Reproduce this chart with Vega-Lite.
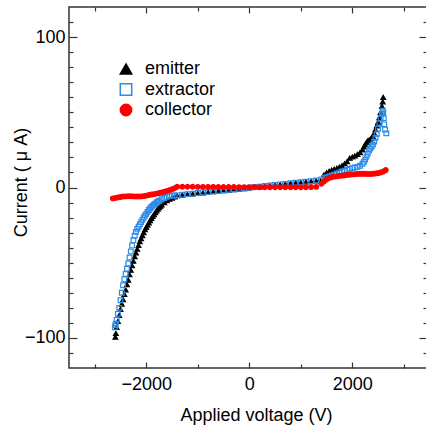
{
  "$schema": "https://vega.github.io/schema/vega-lite/v6.json",
  "width": 358,
  "height": 361,
  "autosize": "none",
  "padding": {"left": 69, "top": 7, "right": 0, "bottom": 59},
  "background": "white",
  "config": {
    "view": {"stroke": "#333", "strokeWidth": 1.5},
    "axis": {
      "labelFont": "Liberation Sans", "labelFontSize": 18, "labelColor": "#000",
      "titleFont": "Liberation Sans", "titleFontSize": 18, "titleFontWeight": "normal", "titleColor": "#000",
      "tickColor": "#333", "tickWidth": 1.2, "domain": false, "grid": false
    }
  },
  "datasets": {
    "d": [
      {"V":-2600,"I":-99.5,"s":"emitter"},{"V":-2590,"I":-97,"s":"emitter"},{"V":-2575,"I":-93,"s":"emitter"},{"V":-2550,"I":-89,"s":"emitter"},{"V":-2525,"I":-85,"s":"emitter"},{"V":-2500,"I":-81,"s":"emitter"},{"V":-2475,"I":-77.5,"s":"emitter"},{"V":-2450,"I":-74.5,"s":"emitter"},{"V":-2425,"I":-71,"s":"emitter"},{"V":-2400,"I":-68,"s":"emitter"},{"V":-2375,"I":-64.5,"s":"emitter"},{"V":-2350,"I":-61.5,"s":"emitter"},{"V":-2325,"I":-58,"s":"emitter"},{"V":-2300,"I":-55,"s":"emitter"},{"V":-2275,"I":-52,"s":"emitter"},{"V":-2250,"I":-49,"s":"emitter"},{"V":-2225,"I":-46,"s":"emitter"},{"V":-2200,"I":-43.5,"s":"emitter"},{"V":-2175,"I":-41,"s":"emitter"},{"V":-2150,"I":-38.5,"s":"emitter"},{"V":-2125,"I":-36,"s":"emitter"},{"V":-2100,"I":-34,"s":"emitter"},{"V":-2075,"I":-32,"s":"emitter"},{"V":-2050,"I":-30,"s":"emitter"},{"V":-2025,"I":-28,"s":"emitter"},{"V":-2000,"I":-26.5,"s":"emitter"},{"V":-1975,"I":-25,"s":"emitter"},{"V":-1950,"I":-23.5,"s":"emitter"},{"V":-1925,"I":-22,"s":"emitter"},{"V":-1900,"I":-20.5,"s":"emitter"},{"V":-1875,"I":-19.2,"s":"emitter"},{"V":-1850,"I":-18,"s":"emitter"},{"V":-1825,"I":-16.7,"s":"emitter"},{"V":-1800,"I":-15.5,"s":"emitter"},{"V":-1775,"I":-14.3,"s":"emitter"},{"V":-1750,"I":-13.3,"s":"emitter"},{"V":-1725,"I":-12.4,"s":"emitter"},{"V":-1700,"I":-11.5,"s":"emitter"},{"V":-1650,"I":-10,"s":"emitter"},{"V":-1600,"I":-8.8,"s":"emitter"},{"V":-1550,"I":-7.8,"s":"emitter"},{"V":-1500,"I":-7.0,"s":"emitter"},{"V":-1450,"I":-6.2,"s":"emitter"},
      {"V":-1400,"I":-5.4,"s":"emitter"},{"V":-1300,"I":-5.0,"s":"emitter"},{"V":-1200,"I":-4.6,"s":"emitter"},{"V":-1100,"I":-4.3,"s":"emitter"},{"V":-1000,"I":-3.9,"s":"emitter"},{"V":-900,"I":-3.5,"s":"emitter"},{"V":-800,"I":-3.2,"s":"emitter"},{"V":-700,"I":-2.8,"s":"emitter"},{"V":-600,"I":-2.5,"s":"emitter"},{"V":-500,"I":-2.1,"s":"emitter"},{"V":-400,"I":-1.7,"s":"emitter"},{"V":-300,"I":-1.4,"s":"emitter"},{"V":-200,"I":-1.0,"s":"emitter"},{"V":-100,"I":-0.7,"s":"emitter"},{"V":0,"I":-0.3,"s":"emitter"},{"V":100,"I":0.1,"s":"emitter"},{"V":200,"I":0.4,"s":"emitter"},{"V":300,"I":0.8,"s":"emitter"},{"V":400,"I":1.2,"s":"emitter"},{"V":500,"I":1.5,"s":"emitter"},{"V":600,"I":1.9,"s":"emitter"},{"V":700,"I":2.2,"s":"emitter"},{"V":800,"I":2.6,"s":"emitter"},{"V":900,"I":3.0,"s":"emitter"},{"V":1000,"I":3.3,"s":"emitter"},{"V":1100,"I":3.7,"s":"emitter"},{"V":1200,"I":4.0,"s":"emitter"},{"V":1300,"I":4.4,"s":"emitter"},{"V":1400,"I":5.0,"s":"emitter"},
      {"V":1450,"I":8.5,"s":"emitter"},{"V":1500,"I":9.8,"s":"emitter"},{"V":1550,"I":10.8,"s":"emitter"},{"V":1600,"I":11.6,"s":"emitter"},{"V":1650,"I":12.2,"s":"emitter"},{"V":1700,"I":12.8,"s":"emitter"},{"V":1750,"I":13.5,"s":"emitter"},{"V":1800,"I":14.5,"s":"emitter"},{"V":1850,"I":15.8,"s":"emitter"},{"V":1900,"I":17.2,"s":"emitter"},{"V":1950,"I":19.5,"s":"emitter"},{"V":2000,"I":20.3,"s":"emitter"},{"V":2050,"I":21,"s":"emitter"},{"V":2100,"I":22,"s":"emitter"},{"V":2150,"I":23.2,"s":"emitter"},{"V":2200,"I":25,"s":"emitter"},{"V":2225,"I":27,"s":"emitter"},{"V":2250,"I":28.5,"s":"emitter"},{"V":2275,"I":30,"s":"emitter"},{"V":2300,"I":31,"s":"emitter"},{"V":2325,"I":31.5,"s":"emitter"},{"V":2350,"I":32.2,"s":"emitter"},{"V":2375,"I":33,"s":"emitter"},{"V":2400,"I":34,"s":"emitter"},{"V":2425,"I":36,"s":"emitter"},{"V":2450,"I":38.5,"s":"emitter"},{"V":2475,"I":41,"s":"emitter"},{"V":2500,"I":43.5,"s":"emitter"},{"V":2525,"I":46.5,"s":"emitter"},{"V":2550,"I":50,"s":"emitter"},{"V":2575,"I":54,"s":"emitter"},{"V":2590,"I":57,"s":"emitter"},{"V":2600,"I":60,"s":"emitter"},
      {"V":-2610,"I":-93,"s":"extractor"},{"V":-2600,"I":-91.5,"s":"extractor"},{"V":-2590,"I":-90.5,"s":"extractor"},{"V":-2575,"I":-88,"s":"extractor"},{"V":-2550,"I":-84,"s":"extractor"},{"V":-2525,"I":-80,"s":"extractor"},{"V":-2500,"I":-75,"s":"extractor"},{"V":-2475,"I":-70,"s":"extractor"},{"V":-2450,"I":-65,"s":"extractor"},{"V":-2425,"I":-61,"s":"extractor"},{"V":-2400,"I":-57.5,"s":"extractor"},{"V":-2375,"I":-54,"s":"extractor"},{"V":-2350,"I":-50.5,"s":"extractor"},{"V":-2325,"I":-46.5,"s":"extractor"},{"V":-2300,"I":-42.5,"s":"extractor"},{"V":-2275,"I":-38.5,"s":"extractor"},{"V":-2250,"I":-35,"s":"extractor"},{"V":-2225,"I":-32,"s":"extractor"},{"V":-2200,"I":-29.5,"s":"extractor"},{"V":-2175,"I":-27.5,"s":"extractor"},{"V":-2150,"I":-26,"s":"extractor"},{"V":-2125,"I":-24.5,"s":"extractor"},{"V":-2100,"I":-23,"s":"extractor"},{"V":-2075,"I":-21.5,"s":"extractor"},{"V":-2050,"I":-20,"s":"extractor"},{"V":-2025,"I":-18.7,"s":"extractor"},{"V":-2000,"I":-17.5,"s":"extractor"},{"V":-1975,"I":-16.2,"s":"extractor"},{"V":-1950,"I":-15,"s":"extractor"},{"V":-1925,"I":-14,"s":"extractor"},{"V":-1900,"I":-13,"s":"extractor"},{"V":-1875,"I":-12.2,"s":"extractor"},{"V":-1850,"I":-11.5,"s":"extractor"},{"V":-1825,"I":-10.7,"s":"extractor"},{"V":-1800,"I":-10,"s":"extractor"},{"V":-1775,"I":-9.4,"s":"extractor"},{"V":-1750,"I":-8.8,"s":"extractor"},{"V":-1700,"I":-7.8,"s":"extractor"},{"V":-1650,"I":-7,"s":"extractor"},{"V":-1600,"I":-6.2,"s":"extractor"},{"V":-1550,"I":-5.7,"s":"extractor"},{"V":-1500,"I":-5.4,"s":"extractor"},{"V":-1450,"I":-5.3,"s":"extractor"},
      {"V":-1400,"I":-5.2,"s":"extractor"},{"V":-1300,"I":-4.8,"s":"extractor"},{"V":-1200,"I":-4.4,"s":"extractor"},{"V":-1100,"I":-4.1,"s":"extractor"},{"V":-1000,"I":-3.7,"s":"extractor"},{"V":-900,"I":-3.3,"s":"extractor"},{"V":-800,"I":-3.0,"s":"extractor"},{"V":-700,"I":-2.6,"s":"extractor"},{"V":-600,"I":-2.3,"s":"extractor"},{"V":-500,"I":-1.9,"s":"extractor"},{"V":-400,"I":-1.5,"s":"extractor"},{"V":-300,"I":-1.2,"s":"extractor"},{"V":-200,"I":-0.8,"s":"extractor"},{"V":-100,"I":-0.5,"s":"extractor"},{"V":0,"I":-0.1,"s":"extractor"},{"V":100,"I":0.3,"s":"extractor"},{"V":200,"I":0.6,"s":"extractor"},{"V":300,"I":1.0,"s":"extractor"},{"V":400,"I":1.4,"s":"extractor"},{"V":500,"I":1.7,"s":"extractor"},{"V":600,"I":2.1,"s":"extractor"},{"V":700,"I":2.4,"s":"extractor"},{"V":800,"I":2.8,"s":"extractor"},{"V":900,"I":3.2,"s":"extractor"},{"V":1000,"I":3.5,"s":"extractor"},{"V":1100,"I":3.9,"s":"extractor"},{"V":1200,"I":4.2,"s":"extractor"},{"V":1300,"I":4.7,"s":"extractor"},{"V":1400,"I":5.3,"s":"extractor"},
      {"V":1450,"I":6.3,"s":"extractor"},{"V":1500,"I":6.8,"s":"extractor"},{"V":1550,"I":7.3,"s":"extractor"},{"V":1600,"I":8,"s":"extractor"},{"V":1650,"I":8.6,"s":"extractor"},{"V":1700,"I":9.3,"s":"extractor"},{"V":1750,"I":10,"s":"extractor"},{"V":1800,"I":10.6,"s":"extractor"},{"V":1850,"I":11.2,"s":"extractor"},{"V":1900,"I":11.8,"s":"extractor"},{"V":1950,"I":12.4,"s":"extractor"},{"V":2000,"I":12.9,"s":"extractor"},{"V":2050,"I":13.3,"s":"extractor"},{"V":2100,"I":13.7,"s":"extractor"},{"V":2150,"I":14.5,"s":"extractor"},{"V":2200,"I":15.8,"s":"extractor"},{"V":2225,"I":17,"s":"extractor"},{"V":2250,"I":18.5,"s":"extractor"},{"V":2275,"I":20.5,"s":"extractor"},{"V":2300,"I":22.5,"s":"extractor"},{"V":2325,"I":24.5,"s":"extractor"},{"V":2350,"I":26,"s":"extractor"},{"V":2375,"I":27.3,"s":"extractor"},{"V":2400,"I":28.5,"s":"extractor"},{"V":2425,"I":30.5,"s":"extractor"},{"V":2450,"I":33,"s":"extractor"},{"V":2475,"I":35.5,"s":"extractor"},{"V":2500,"I":39,"s":"extractor"},{"V":2525,"I":42.5,"s":"extractor"},{"V":2550,"I":46,"s":"extractor"},{"V":2575,"I":49,"s":"extractor"},{"V":2590,"I":51,"s":"extractor"},{"V":2600,"I":50,"s":"extractor"},{"V":2610,"I":46,"s":"extractor"},{"V":2620,"I":42,"s":"extractor"},{"V":2635,"I":38.5,"s":"extractor"},{"V":2660,"I":36,"s":"extractor"},
      {"V":-2650,"I":-7.2,"s":"collector"},{"V":-2600,"I":-7,"s":"collector"},{"V":-2550,"I":-6.6,"s":"collector"},{"V":-2500,"I":-6.3,"s":"collector"},{"V":-2450,"I":-6.0,"s":"collector"},{"V":-2400,"I":-5.9,"s":"collector"},{"V":-2350,"I":-5.8,"s":"collector"},{"V":-2300,"I":-5.8,"s":"collector"},{"V":-2250,"I":-5.9,"s":"collector"},{"V":-2200,"I":-6.0,"s":"collector"},{"V":-2150,"I":-6.0,"s":"collector"},{"V":-2100,"I":-5.9,"s":"collector"},{"V":-2050,"I":-5.7,"s":"collector"},{"V":-2000,"I":-5.4,"s":"collector"},{"V":-1950,"I":-5.0,"s":"collector"},{"V":-1900,"I":-4.7,"s":"collector"},{"V":-1850,"I":-4.4,"s":"collector"},{"V":-1800,"I":-4.1,"s":"collector"},{"V":-1750,"I":-3.7,"s":"collector"},{"V":-1700,"I":-3.3,"s":"collector"},{"V":-1650,"I":-2.8,"s":"collector"},{"V":-1600,"I":-2.3,"s":"collector"},{"V":-1550,"I":-1.8,"s":"collector"},{"V":-1500,"I":-1.2,"s":"collector"},{"V":-1450,"I":-0.5,"s":"collector"},
      {"V":-1400,"I":0.5,"s":"collector"},{"V":-1300,"I":0.5,"s":"collector"},{"V":-1200,"I":0.5,"s":"collector"},{"V":-1100,"I":0.5,"s":"collector"},{"V":-1000,"I":0.4,"s":"collector"},{"V":-900,"I":0.4,"s":"collector"},{"V":-800,"I":0.4,"s":"collector"},{"V":-700,"I":0.4,"s":"collector"},{"V":-600,"I":0.3,"s":"collector"},{"V":-500,"I":0.3,"s":"collector"},{"V":-400,"I":0.3,"s":"collector"},{"V":-300,"I":0.3,"s":"collector"},{"V":-200,"I":0.2,"s":"collector"},{"V":-100,"I":0.2,"s":"collector"},{"V":0,"I":0.2,"s":"collector"},{"V":100,"I":0.2,"s":"collector"},{"V":200,"I":0.2,"s":"collector"},{"V":300,"I":0.2,"s":"collector"},{"V":400,"I":0.2,"s":"collector"},{"V":500,"I":0.2,"s":"collector"},{"V":600,"I":0.2,"s":"collector"},{"V":700,"I":0.2,"s":"collector"},{"V":800,"I":0.2,"s":"collector"},{"V":900,"I":0.2,"s":"collector"},{"V":1000,"I":0.2,"s":"collector"},{"V":1100,"I":0.2,"s":"collector"},{"V":1200,"I":0.3,"s":"collector"},{"V":1300,"I":0.4,"s":"collector"},{"V":1400,"I":2.5,"s":"collector"},
      {"V":1450,"I":4.0,"s":"collector"},{"V":1500,"I":5.3,"s":"collector"},{"V":1550,"I":6.3,"s":"collector"},{"V":1600,"I":6.8,"s":"collector"},{"V":1650,"I":7.2,"s":"collector"},{"V":1700,"I":7.5,"s":"collector"},{"V":1750,"I":7.7,"s":"collector"},{"V":1800,"I":7.9,"s":"collector"},{"V":1850,"I":8.1,"s":"collector"},{"V":1900,"I":8.3,"s":"collector"},{"V":1950,"I":8.5,"s":"collector"},{"V":2000,"I":8.7,"s":"collector"},{"V":2050,"I":8.8,"s":"collector"},{"V":2100,"I":9.0,"s":"collector"},{"V":2150,"I":9.1,"s":"collector"},{"V":2200,"I":9.1,"s":"collector"},{"V":2250,"I":9.1,"s":"collector"},{"V":2300,"I":9.0,"s":"collector"},{"V":2350,"I":9.0,"s":"collector"},{"V":2400,"I":9.1,"s":"collector"},{"V":2450,"I":9.3,"s":"collector"},{"V":2500,"I":9.6,"s":"collector"},{"V":2550,"I":10.0,"s":"collector"},{"V":2600,"I":10.6,"s":"collector"},{"V":2650,"I":11.6,"s":"collector"}
    ],
    "origin": [{"V": 0, "I": 0}]
  },
  "resolve": {"axis": {"x": "independent", "y": "independent"}},
  "layer": [
    {
      "data": {"name": "d"},
      "mark": {"type": "point", "size": 22, "strokeWidth": 1.2, "opacity": 1},
      "encoding": {
        "x": {"field": "V", "type": "quantitative", "scale": {"domain": [-3500, 3450], "nice": false, "zero": false},
          "axis": {"orient": "bottom", "values": [-2000, 0, 2000], "format": "d", "tickSize": -6, "labelPadding": 13, "title": "Applied voltage (V)", "titleX": 187, "titleY": 52, "titleBaseline": "alphabetic", "titleAlign": "center"}},
        "y": {"field": "I", "type": "quantitative", "scale": {"domain": [-120, 120], "nice": false, "zero": false},
          "axis": {"orient": "left", "values": [-100, 0, 100], "format": "d", "tickSize": -8, "labelPadding": 12, "title": "Current ( μ A)", "titleX": -39, "titleY": 175, "titleAngle": 270, "titleBaseline": "bottom", "titleAlign": "center"}},
        "shape": {"field": "s", "type": "nominal", "sort": ["emitter", "extractor", "collector"],
          "scale": {"domain": ["emitter", "extractor", "collector"], "range": ["triangle-up", "square", "circle"]},
          "legend": {"orient": "none", "legendX": 48, "legendY": 53, "title": null, "labelFont": "Liberation Sans", "labelFontSize": 18, "labelColor": "#000", "symbolSize": 130, "symbolStrokeWidth": 1.5, "labelOffset": 10, "rowPadding": 2.5, "padding": 0}},
        "fill": {"field": "s", "type": "nominal", "sort": ["emitter", "extractor", "collector"],
          "scale": {"domain": ["emitter", "extractor", "collector"], "range": ["#000000", "transparent", "#ff0000"]},
          "legend": {"orient": "none", "legendX": 48, "legendY": 53, "title": null, "labelFont": "Liberation Sans", "labelFontSize": 18, "labelColor": "#000", "symbolSize": 130, "symbolStrokeWidth": 1.5, "labelOffset": 10, "rowPadding": 2.5, "padding": 0}},
        "stroke": {"field": "s", "type": "nominal", "sort": ["emitter", "extractor", "collector"],
          "scale": {"domain": ["emitter", "extractor", "collector"], "range": ["#000000", "#2b8ce8", "#ff0000"]},
          "legend": {"orient": "none", "legendX": 48, "legendY": 53, "title": null, "labelFont": "Liberation Sans", "labelFontSize": 18, "labelColor": "#000", "symbolSize": 130, "symbolStrokeWidth": 1.5, "labelOffset": 10, "rowPadding": 2.5, "padding": 0}}
      }
    },
    {
      "data": {"name": "origin"},
      "mark": {"type": "point", "opacity": 0},
      "encoding": {
        "x": {"field": "V", "type": "quantitative", "axis": {"orient": "bottom", "values": [-3000, -1000, 1000, 3000], "tickSize": -4, "labels": false, "title": null}},
        "y": {"field": "I", "type": "quantitative", "axis": {"orient": "left", "values": [-110, -90, -80, -70, -60, -50, -40, -30, -20, -10, 10, 20, 30, 40, 50, 60, 70, 80, 90, 110], "tickSize": -4, "labels": false, "title": null}}
      }
    },
    {
      "data": {"name": "origin"},
      "mark": {"type": "point", "opacity": 0},
      "encoding": {
        "x": {"field": "V", "type": "quantitative", "axis": {"orient": "top", "values": [-2000, 0, 2000], "tickSize": -6, "labels": false, "title": null}},
        "y": {"field": "I", "type": "quantitative", "axis": {"orient": "right", "values": [-100, 0, 100], "tickSize": -8, "labels": false, "title": null}}
      }
    },
    {
      "data": {"name": "origin"},
      "mark": {"type": "point", "opacity": 0},
      "encoding": {
        "x": {"field": "V", "type": "quantitative", "axis": {"orient": "top", "values": [-3000, -1000, 1000, 3000], "tickSize": -4, "labels": false, "title": null}},
        "y": {"field": "I", "type": "quantitative", "axis": {"orient": "right", "values": [-110, -90, -80, -70, -60, -50, -40, -30, -20, -10, 10, 20, 30, 40, 50, 60, 70, 80, 90, 110], "tickSize": -4, "labels": false, "title": null}}
      }
    }
  ]
}
